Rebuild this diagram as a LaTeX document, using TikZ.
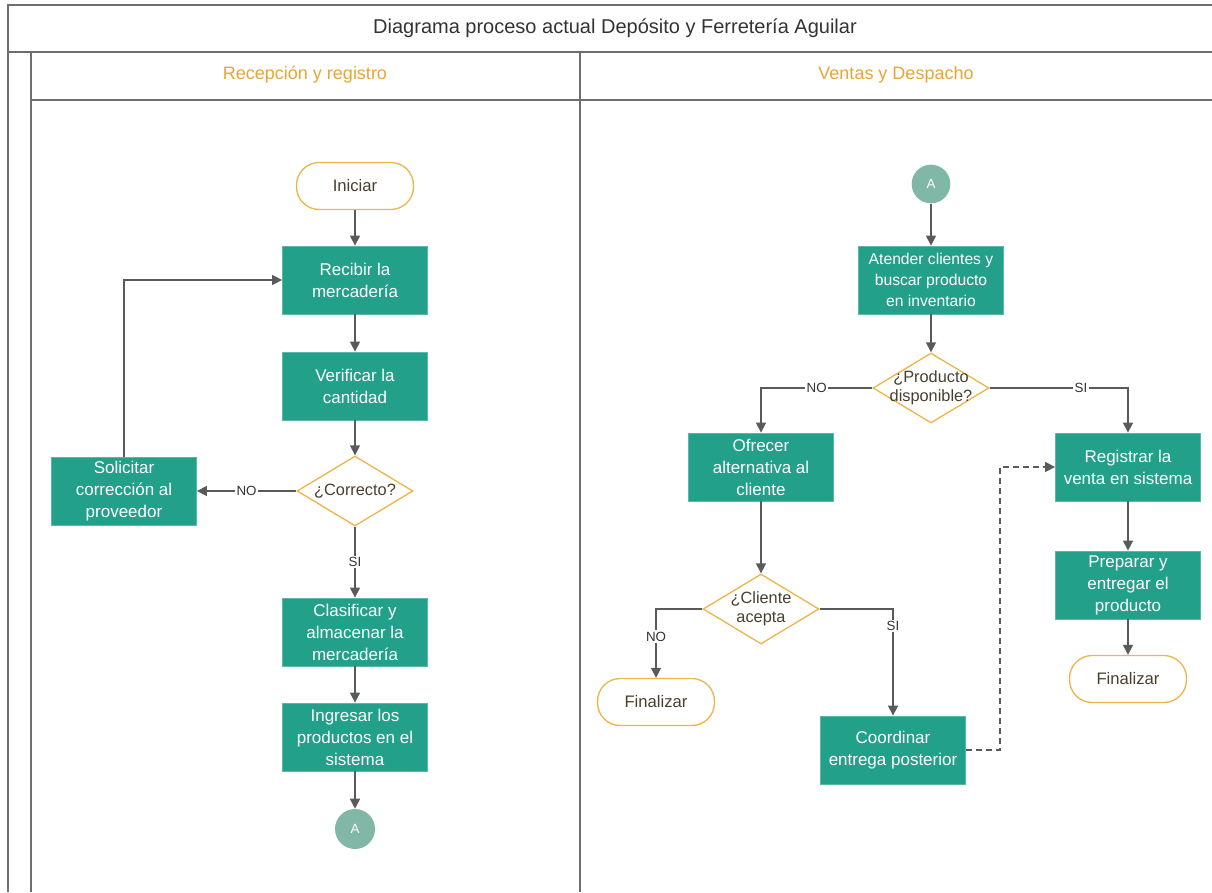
\documentclass[tikz,border=0pt]{standalone}
\usepackage{fontspec}
\setmainfont{Liberation Sans}
\usetikzlibrary{arrows.meta,shapes.geometric}
\definecolor{procgreen}{HTML}{22A08A}
\definecolor{conngreen}{HTML}{80B7A6}
\definecolor{termorange}{HTML}{EDB64C}
\definecolor{lanetext}{HTML}{E8A534}
\definecolor{termtext}{HTML}{4A3F2E}
\definecolor{framegray}{HTML}{6E6E6E}
\definecolor{arrowgray}{HTML}{5A5A5A}
\definecolor{titlegray}{HTML}{333333}

\begin{document}
\begin{tikzpicture}[x=0.75pt,y=-0.75pt,
  frame/.style={draw=framegray, line width=1.3pt},
  proc/.style={rectangle, fill=procgreen, draw=procgreen!75!white, line width=0.6pt, text=white,
    minimum width=108.75pt, minimum height=51pt, align=center, inner sep=1pt,
    font=\fontsize{12.75}{16.5}\selectfont},
  term/.style={rectangle, rounded corners=17pt, draw=termorange, line width=1pt, fill=white,
    text=termtext, minimum width=87.75pt, minimum height=35.25pt,
    font=\fontsize{12.5}{15}\selectfont},
  dec/.style={diamond, draw=termorange, line width=1pt, fill=white,
    minimum width=87pt, minimum height=52.5pt, inner sep=0pt},
  dectext/.style={text=termtext, align=center, inner sep=0pt,
    font=\fontsize{12.25}{14.25}\selectfont},
  conn/.style={circle, fill=conngreen, text=white, minimum size=29pt, inner sep=0pt,
    font=\fontsize{10}{12}\selectfont},
  flow/.style={draw=arrowgray, line width=1.1pt, -{Triangle[length=7.5pt,width=7.5pt]}},
  lbl/.style={fill=white, inner sep=1pt, text=titlegray, font=\fontsize{10}{12}\selectfont},
]
  \useasboundingbox (0,0) rectangle (1212,892);

  %%%%% FRAME %%%%%
  \draw[frame] (8,892) -- (8,5) -- (1212,5);
  \draw[frame] (8,52) -- (1212,52);
  \draw[frame] (31,52) -- (31,892);
  \draw[frame] (31,100) -- (1212,100);
  \draw[frame] (580,52) -- (580,892);

  \node[text=titlegray, font=\fontsize{15}{18}\selectfont] (title) at (615,28)
    {Diagrama proceso actual Depósito y Ferretería Aguilar};
  \node[text=lanetext, font=\fontsize{13.5}{16}\selectfont] (lane1) at (305,75) {Recepción y registro};
  \node[text=lanetext, font=\fontsize{13.5}{16}\selectfont] (lane2) at (896,75) {Ventas y Despacho};

  %%%%% RECEPCION %%%%%
  \node[term] (ini) at (355,186) {Iniciar};
  \node[proc] (rec) at (355,280) {Recibir la\\mercadería};
  \node[proc] (ver) at (355,386) {Verificar la\\cantidad};
  \node[dec] (cor) at (355,491) {};
  \node[dectext] (cort) at (cor) {¿Correcto?};
  \node[proc] (sol) at (124,491) {Solicitar\\corrección al\\proveedor};
  \node[proc] (cla) at (355,632) {Clasificar y\\almacenar la\\mercadería};
  \node[proc] (ing) at (355,737) {Ingresar los\\productos en el\\sistema};
  \node[conn, minimum size=30pt] (a1) at (355,829) {A};

  \draw[flow] (ini) -- (rec);
  \draw[flow] (rec) -- (ver);
  \draw[flow] (ver) -- (cor);
  \draw[flow] (cor) -- node[lbl] {NO} (sol);
  \draw[flow] (sol.north) |- (rec.west);
  \draw[flow] (cor) -- node[lbl] {SI} (cla);
  \draw[flow] (cla) -- (ing);
  \draw[flow] (ing) -- (a1);

  %%%%% VENTAS %%%%%
  \node[conn] (a2) at (931,184) {A};
  \node[proc, font=\fontsize{11.75}{15.75}\selectfont] (ate) at (931,280)
    {Atender clientes y\\buscar producto\\en inventario};
  \node[dec] (dis) at (931,388) {};
  \node[dectext] (dist) at (dis) {¿Producto\\disponible?};
  \node[proc] (ofr) at (761,467) {Ofrecer\\alternativa al\\cliente};
  \node[proc] (reg) at (1128,467) {Registrar la\\venta en sistema};
  \node[dec] (cli) at (761,609) {};
  \node[dectext] (clit) at (cli) {¿Cliente\\acepta};
  \node[term] (fin1) at (656,702) {Finalizar};
  \node[proc] (coo) at (893,750) {Coordinar\\entrega posterior};
  \node[proc] (pre) at (1128,585) {Preparar y\\entregar el\\producto};
  \node[term] (fin2) at (1128,679) {Finalizar};
  \coordinate (jog) at (1000,750);

  \draw[flow] (a2) -- (ate);
  \draw[flow] (ate) -- (dis);
  \draw[flow] (dis.west) -| node[lbl, pos=0.25] {NO} (ofr.north);
  \draw[flow] (dis.east) -| node[lbl, pos=0.33] {SI} (reg.north);
  \draw[flow] (ofr) -- (cli);
  \draw[flow] (cli.west) -| node[lbl, pos=0.7] {NO} (fin1.north);
  \draw[flow] (cli.east) -| node[lbl, pos=0.58] {SI} (coo.north);
  \draw[flow, dash pattern=on 4.5pt off 3pt] (coo.east) -- (jog) |- (reg.west);
  \draw[flow] (reg) -- (pre);
  \draw[flow] (pre) -- (fin2);
\end{tikzpicture}
\end{document}
